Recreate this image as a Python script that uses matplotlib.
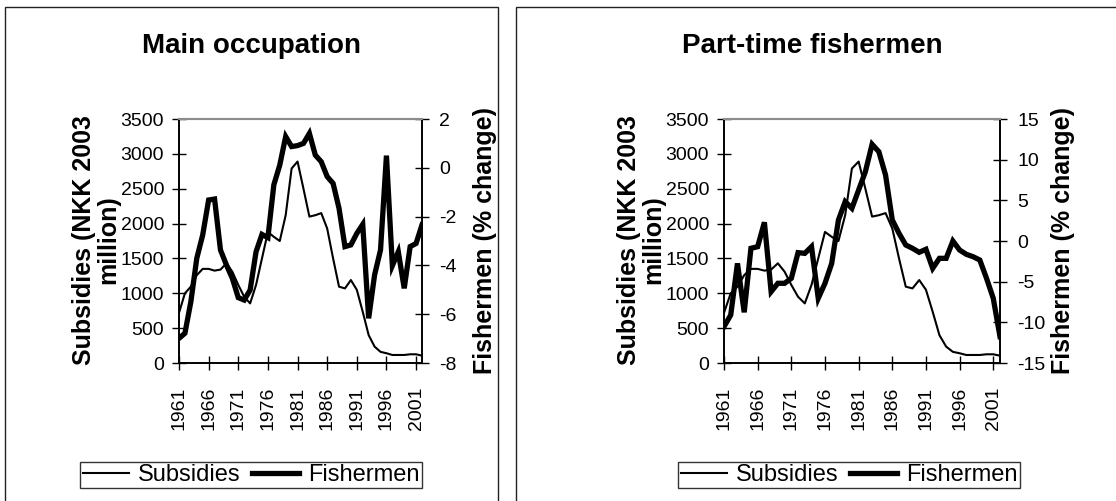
import matplotlib
matplotlib.use("Agg")
import matplotlib.pyplot as plt
from matplotlib.patches import Rectangle
from matplotlib.lines import Line2D

plt.rcParams['font.family'] = ['Liberation Sans', 'DejaVu Sans']
plt.rcParams['axes.unicode_minus'] = False

years = list(range(1961, 2003))

# subsidies, NKK 2003 million (same series in both panels)
subsidies = [720, 1000, 1095, 1260, 1350, 1350, 1325, 1340, 1430, 1310,
             1120, 950, 855, 1120, 1500, 1880, 1810, 1750, 2120, 2790,
             2890, 2500, 2100, 2120, 2150, 1930, 1500, 1095, 1070, 1190,
             1050, 735, 400, 235, 160, 140, 115, 115, 115, 125,
             125, 105]

# fishermen, % change
fishermen_main = [-6.99, -6.78, -5.49, -3.71, -2.75, -1.32, -1.28, -3.37, -3.98, -4.53,
                  -5.32, -5.42, -5.01, -3.44, -2.73, -2.86, -0.70, 0.11, 1.28, 0.87,
                  0.91, 1.00, 1.41, 0.52, 0.25, -0.36, -0.64, -1.66, -3.23, -3.16,
                  -2.69, -2.32, -6.17, -4.39, -3.37, 0.50, -4.01, -3.44, -4.94, -3.23,
                  -3.10, -2.34]
fishermen_part = [-10.53, -9.10, -2.75, -8.77, -0.90, -0.70, 2.30, -6.23, -5.20, -5.20,
                  -4.59, -1.43, -1.52, -0.70, -7.05, -5.20, -2.75, 2.58, 4.84, 4.02,
                  6.27, 8.52, 11.89, 10.98, 8.11, 2.58, 0.94, -0.49, -0.90, -1.39,
                  -1.02, -3.36, -2.13, -2.13, 0.0, -1.11, -1.64, -1.93, -2.34, -4.59,
                  -7.05, -11.76]

year_ticks = list(range(1961, 2002, 5))
subsidy_ticks = list(range(0, 3501, 500))
main_ticks = list(range(-8, 3, 2))
part_ticks = list(range(-15, 16, 5))

W, H = 1116, 501
fig = plt.figure(figsize=(W / 100, H / 100), dpi=100)


def fx(px):
    return px / W


def fy(py):
    return 1 - py / H


def tick_style(ax, axis, pad):
    ax.tick_params(axis=axis, direction='inout', length=10.5, width=1,
                   labelsize=14, pad=pad, color='black')


panels = [
    dict(title='Main occupation', fish=fishermen_main, ticks=main_ticks,
         box=(5, 7, 498, 520), plot=(179, 119, 422, 363), title_x=252,
         legend_x=251),
    dict(title='Part-time fishermen', fish=fishermen_part, ticks=part_ticks,
         box=(516, 7, 1130, 520), plot=(724, 119, 1000, 363), title_x=812,
         legend_x=849),
]

for p in panels:
    # outer frame of the panel
    bx0, by0, bx1, by1 = p['box']
    fig.patches.append(Rectangle((fx(bx0), fy(by1)), fx(bx1 - bx0), (by1 - by0) / H,
                                 transform=fig.transFigure, fill=False,
                                 edgecolor='#222222', linewidth=1.0))

    x0, top, x1, bottom = p['plot']
    ax = fig.add_axes([fx(x0), fy(bottom), fx(x1 - x0), (bottom - top) / H])
    ax2 = ax.twinx()

    ax.plot(years, subsidies, color='black', linewidth=1.5)
    ax2.plot(years, p['fish'], color='black', linewidth=3.8,
             solid_joinstyle='miter')

    ax.set_xlim(1961, 2002)
    ax.set_ylim(0, 3500)
    ax.set_yticks(subsidy_ticks)
    ax.set_xticks(year_ticks)
    ax.set_xticklabels([str(y) for y in year_ticks], rotation=90)
    ax2.set_ylim(p['ticks'][0], p['ticks'][-1])
    ax2.set_yticks(p['ticks'])

    tick_style(ax, 'y', 5.5)
    tick_style(ax, 'x', 12)
    tick_style(ax2, 'y', 7)

    for a in (ax, ax2):
        for side in ('left', 'right', 'bottom'):
            a.spines[side].set_color('black')
            a.spines[side].set_linewidth(1.2)
        a.spines['top'].set_color('#8c8c8c')
        a.spines['top'].set_linewidth(1.5)

    fig.text(fx(p['title_x']), fy(53), p['title'], ha='center', va='baseline',
             fontsize=20, fontweight='bold')

    # axis titles, placed relative to the plot edges
    ymid = fy(240)
    fig.text(fx(x0 - 95), ymid, 'Subsidies (NKK 2003', rotation=90,
             ha='center', va='center', fontsize=18, fontweight='bold')
    fig.text(fx(x0 - 71), ymid, 'million)', rotation=90,
             ha='center', va='center', fontsize=18, fontweight='bold')
    fig.text(fx(x1 + 63), ymid, 'Fishermen (% change)', rotation=90,
             ha='center', va='center', fontsize=18, fontweight='bold')

    handles = [Line2D([], [], color='black', linewidth=1.5),
               Line2D([], [], color='black', linewidth=3.8)]
    leg = fig.legend(handles, ['Subsidies', 'Fishermen'], loc='center',
                     bbox_to_anchor=(fx(p['legend_x']), fy(475)), ncol=2,
                     fontsize=17, frameon=True, fancybox=False,
                     handlelength=1.95, handletextpad=0.4, columnspacing=0.5,
                     borderpad=0.1, borderaxespad=0)
    leg.get_frame().set_edgecolor('black')
    leg.get_frame().set_linewidth(1.0)

fig.savefig('out.png', dpi=100)
